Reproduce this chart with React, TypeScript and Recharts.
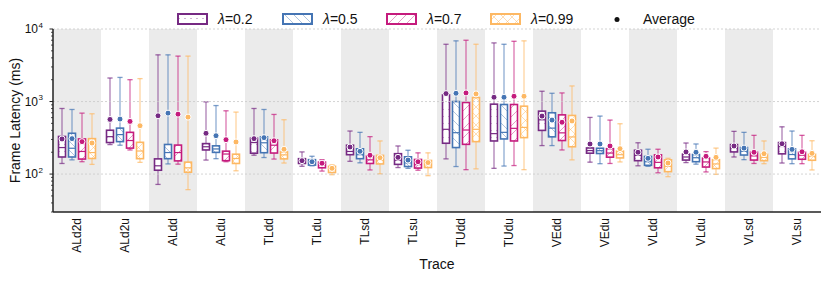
import { ComposedChart, Bar, XAxis, YAxis, ReferenceArea, ReferenceLine, Label } from 'recharts'

const traces = ['ALd2d', 'ALd2u', 'ALdd', 'ALdu', 'TLdd', 'TLdu', 'TLsd', 'TLsu', 'TUdd', 'TUdu', 'VEdd', 'VEdu', 'VLdd', 'VLdu', 'VLsd', 'VLsu']
const lambdas = ['0.2', '0.5', '0.7', '0.99']
const colors = ['#762a83', '#4575b4', '#c51b7d', '#fdb863']

// per trace: [whisker low, q1, median, q3, whisker high, mean]
const lambda02 = [
	[140, 172, 232, 330, 802, 305], [255, 272, 328, 402, 2110, 567], [72, 113, 130, 162, 4400, 636], [156, 215, 238, 263, 990, 365],
	[182, 194, 272, 312, 802, 308], [128, 140, 150, 163, 202, 153], [150, 185, 205, 250, 392, 236], [123, 136, 155, 191, 244, 170],
	[162, 266, 414, 1234, 6160, 1287], [120, 286, 361, 920, 6430, 1146], [247, 400, 560, 737, 1386, 630], [146, 194, 211, 229, 604, 260],
	[130, 153, 181, 213, 270, 200], [144, 156, 172, 188, 268, 202], [172, 202, 228, 255, 388, 244], [142, 190, 240, 272, 448, 262],
]
const lambda05 = [
	[157, 172, 227, 365, 777, 308], [250, 280, 350, 430, 2150, 573], [138, 163, 198, 256, 4400, 692], [163, 199, 222, 245, 880, 338],
	[169, 197, 270, 326, 777, 318], [130, 133, 143, 158, 176, 148], [143, 163, 185, 223, 376, 206], [120, 127, 143, 173, 213, 156],
	[127, 232, 372, 1000, 6860, 1300], [129, 305, 376, 910, 6160, 1146], [247, 326, 430, 700, 1300, 555], [139, 192, 210, 227, 630, 260],
	[128, 132, 148, 175, 220, 165], [137, 148, 168, 186, 260, 200], [158, 183, 206, 232, 376, 228], [139, 162, 186, 223, 392, 219],
]
const lambda07 = [
	[148, 161, 205, 305, 692, 280], [215, 228, 290, 376, 2000, 532], [137, 152, 198, 251, 4230, 670], [148, 153, 189, 207, 745, 298],
	[161, 195, 250, 296, 664, 288], [110, 122, 133, 146, 158, 141], [114, 140, 157, 177, 328, 182], [113, 121, 135, 159, 196, 148],
	[115, 257, 405, 970, 7000, 1314], [131, 286, 427, 910, 6770, 1183], [215, 290, 370, 655, 1314, 518], [140, 171, 195, 224, 555, 244],
	[104, 122, 145, 184, 220, 172], [107, 125, 147, 166, 204, 176], [140, 156, 178, 200, 342, 200], [139, 160, 182, 200, 342, 203],
]
const lambda099 = [
	[136, 164, 198, 308, 678, 268], [145, 163, 208, 274, 2070, 464], [61, 106, 122, 146, 4230, 610], [111, 140, 164, 188, 715, 277],
	[142, 162, 184, 202, 561, 220], [98, 105, 114, 128, 134, 120], [101, 138, 155, 181, 286, 168], [95, 123, 135, 154, 196, 144],
	[118, 280, 414, 1134, 6160, 1274], [115, 318, 440, 863, 6860, 1183], [157, 238, 325, 643, 1640, 540], [147, 167, 185, 207, 494, 224],
	[92, 108, 128, 157, 165, 142], [99, 119, 138, 158, 228, 170], [139, 153, 170, 188, 286, 191], [114, 155, 175, 188, 288, 193],
]
const series = [lambda02, lambda05, lambda07, lambda099]

const yTicks = [30, 40, 50, 60, 70, 80, 90, 100, 200, 300, 400, 500, 600, 700, 800, 900, 1000, 2000, 3000, 4000, 5000, 6000, 7000, 8000, 9000, 10000]
const majorTicks = [100, 1000, 10000]

const data = traces.map((trace, i) => ({
	trace,
	s0: series[0][i],
	s1: series[1][i],
	s2: series[2][i],
	s3: series[3][i],
}))

const FONT = '"Liberation Sans", Arial, Helvetica, sans-serif'

const BoxShape = (props: any) => {
	const { x, y, width, height, payload, idx } = props
	const [lo, q1, med, q3, hi, mean] = payload[`s${idx}`]
	const bottom = y + height
	// log scale: positions between the whisker ends are linear in log(value)
	const ly = (v: number) => bottom - (Math.log(v / lo) / Math.log(hi / lo)) * height
	const cx = x + width / 2
	const c = colors[idx]
	const bx = x + 0.5
	const bw = width - 1
	return (
		<g>
			<line x1={cx} x2={cx} y1={ly(hi)} y2={ly(q3)} stroke={c} strokeOpacity={0.6} strokeWidth={1.3} />
			<line x1={cx} x2={cx} y1={ly(q1)} y2={ly(lo)} stroke={c} strokeOpacity={0.6} strokeWidth={1.3} />
			<line x1={cx - 2.6} x2={cx + 2.6} y1={ly(hi)} y2={ly(hi)} stroke={c} strokeOpacity={0.7} strokeWidth={1.3} />
			<line x1={cx - 2.6} x2={cx + 2.6} y1={ly(lo)} y2={ly(lo)} stroke={c} strokeOpacity={0.7} strokeWidth={1.3} />
			<rect x={bx} y={ly(q3)} width={bw} height={ly(q1) - ly(q3)} fill="#fff" />
			<rect x={bx} y={ly(q3)} width={bw} height={ly(q1) - ly(q3)} fill={`url(#hatch${idx})`} stroke={c} strokeWidth={1.6} />
			<line x1={bx} x2={bx + bw} y1={ly(med)} y2={ly(med)} stroke={c} strokeWidth={1.2} />
			<circle cx={cx} cy={ly(mean)} r={3} fill={c} stroke="#fff" strokeWidth={1} />
		</g>
	)
}

const YTick = (props: any) => {
	const { x, y, payload } = props
	const v = payload.value
	const major = majorTicks.includes(v)
	return (
		<g>
			<line x1={x - (major ? 3.5 : 2)} x2={x} y1={y} y2={y} stroke="#222" strokeWidth={major ? 1 : 0.8} />
			{major && (
				<text x={x - 15} y={y + 4} textAnchor="end" fontSize={12} fontFamily={FONT} fill="#111">
					10
				</text>
			)}
			{major && (
				<text x={x - 14.5} y={y - 1.5} textAnchor="start" fontSize={8} fontFamily={FONT} fill="#111">
					{String(Math.round(Math.log10(v)))}
				</text>
			)}
		</g>
	)
}

const XTick = (props: any) => {
	const { x, y, payload } = props
	const px = x + 4.3
	const py = y + 6
	return (
		<text x={px} y={py} textAnchor="end" fontSize={12} fontFamily={FONT} fill="#111" transform={`rotate(-90, ${px}, ${py})`}>
			{payload.value}
		</text>
	)
}

const Patterns = () => (
	<defs>
		<pattern id="hatch0" patternUnits="userSpaceOnUse" width={6} height={7}>
			<rect x={2.5} y={3} width={1} height={1} fill={colors[0]} fillOpacity={0.7} />
		</pattern>
		<pattern id="hatch1" patternUnits="userSpaceOnUse" width={9} height={9}>
			<path d="M0,0 L9,9 M-3,6 L3,12 M6,-3 L12,3" stroke={colors[1]} strokeOpacity={0.55} strokeWidth={0.8} />
		</pattern>
		<pattern id="hatch2" patternUnits="userSpaceOnUse" width={9} height={9}>
			<path d="M0,9 L9,0 M-3,3 L3,-3 M6,12 L12,6" stroke={colors[2]} strokeOpacity={0.55} strokeWidth={0.8} />
		</pattern>
		<pattern id="hatch3" patternUnits="userSpaceOnUse" width={9} height={9}>
			<path d="M0,0 L9,9 M-3,6 L3,12 M6,-3 L12,3 M0,9 L9,0 M-3,3 L3,-3 M6,12 L12,6" stroke={colors[3]} strokeOpacity={0.6} strokeWidth={0.8} />
		</pattern>
	</defs>
)

const legendX = [170, 275, 379, 483]

const LegendOverlay = () => (
	<svg width={822} height={30} style={{ position: 'absolute', left: 0, top: 0, pointerEvents: 'none' }}>
		<Patterns />
		{lambdas.map((l, i) => (
			<g key={l}>
				<rect x={legendX[i]} y={6} width={29} height={10} fill={`url(#hatch${i})`} stroke={colors[i]} strokeWidth={2} />
				<text x={legendX[i] + 40} y={16} fontSize={14} fontFamily={FONT} fill="#111">
					<tspan fontStyle="italic">λ</tspan>={l}
				</text>
			</g>
		))}
		<circle cx={609} cy={11.5} r={2.5} fill="#111" />
		<text x={635} y={16} fontSize={14} fontFamily={FONT} fill="#111">
			Average
		</text>
	</svg>
)

export default function App() {
	return (
		<div style={{ position: 'relative', width: 822, height: 273 }}>
			<ComposedChart width={822} height={273} data={data} margin={{ top: 21, right: 9, bottom: 0, left: 0 }} barSize={8} barGap={2}>
				{traces
					.filter((_, i) => i % 2 === 0)
					.map((t) => (
						<ReferenceArea key={t} x1={t} x2={t} fill="#ebebeb" fillOpacity={1} stroke="none" />
					))}
				{majorTicks.map((v) => (
					<ReferenceLine key={v} y={v} stroke="#c8c8c8" strokeDasharray="2 2" strokeWidth={0.8} />
				))}
				<XAxis
					dataKey="trace"
					type="category"
					height={69}
					interval={0}
					tickLine={false}
					tickSize={0}
					tickMargin={0}
					tick={<XTick />}
					axisLine={{ stroke: '#222', strokeWidth: 1.5 }}
				>
					<Label
						content={(p: any) => (
							<text x={p.viewBox.x + p.viewBox.width / 2} y={p.viewBox.y + 57} textAnchor="middle" fontSize={14} fontFamily={FONT} fill="#111">
								Trace
							</text>
						)}
					/>
				</XAxis>
				<YAxis
					type="number"
					scale="log"
					domain={[30, 10000]}
					allowDataOverflow
					ticks={yTicks}
					interval={0}
					width={45}
					tickLine={false}
					tickSize={0}
					tickMargin={0}
					tick={<YTick />}
					axisLine={{ stroke: '#222', strokeWidth: 1.5 }}
				>
					<Label
						content={(p: any) => {
							const cy = p.viewBox.y + p.viewBox.height / 2
							return (
								<text x={12} y={cy} textAnchor="middle" fontSize={14} fontFamily={FONT} fill="#111" transform={`rotate(-90, 12, ${cy})`}>
									Frame Latency (ms)
								</text>
							)
						}}
					/>
				</YAxis>
				{[0, 1, 2, 3].map((i) => (
					<Bar
						key={i}
						dataKey={(d: any) => [d[`s${i}`][0], d[`s${i}`][4]]}
						name={`λ=${lambdas[i]}`}
						fill={colors[i]}
						isAnimationActive={false}
						shape={(p: any) => <BoxShape {...p} idx={i} />}
					/>
				))}
			</ComposedChart>
			<LegendOverlay />
		</div>
	)
}
